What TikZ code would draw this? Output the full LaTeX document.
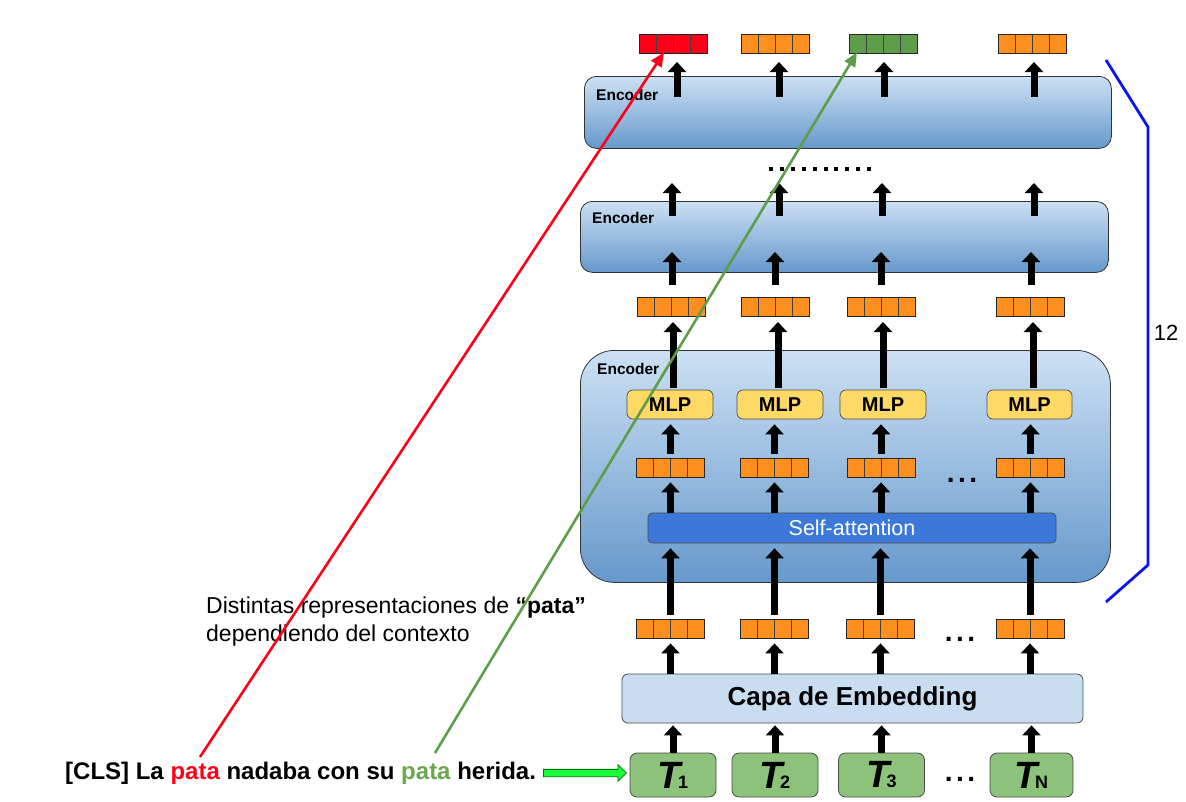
\documentclass[tikz,border=0pt]{standalone}
\usepackage{fontspec}
\setmainfont{Liberation Sans}
\usetikzlibrary{arrows.meta,calc,shapes.arrows}
\definecolor{vorange}{HTML}{FF8F1F}
\definecolor{vred}{HTML}{FF0019}
\definecolor{vgreen}{HTML}{5E9E4A}
\definecolor{wgreen}{HTML}{6AA84F}
\definecolor{enctop}{HTML}{CCE0F3}
\definecolor{encbot}{HTML}{6699CC}
\definecolor{mlpy}{HTML}{FFD966}
\definecolor{sablue}{HTML}{3C78D8}
\definecolor{embfill}{HTML}{C9DDF0}
\definecolor{tokg}{HTML}{8DC27A}
\definecolor{brk}{HTML}{0A14F0}
\definecolor{garrow}{HTML}{19FF3C}
\tikzset{
  vec/.style={draw=black!85, fill=#1, minimum width=68pt, minimum height=19pt, inner sep=0pt, line width=0.8pt,
    path picture={\foreach \k in {1,2,3}{\draw[black!75,line width=0.7pt]
      ($(path picture bounding box.south west)!\k/4!(path picture bounding box.south east)$) --
      ($(path picture bounding box.north west)!\k/4!(path picture bounding box.north east)$);}}},
  vec/.default=vorange,
  blk/.style={line width=7pt, -{Triangle[length=10pt,width=18pt]}, black, shorten <=4pt, shorten >=5pt},
  encoder/.style={draw=black!80, top color=enctop, bottom color=encbot, line width=0.8pt, inner sep=0pt},
  enclab/.style={font=\fontsize{15.5}{17}\selectfont\bfseries, inner sep=0pt, anchor=west},
  mlp/.style={draw=black!70, fill=mlpy, rounded corners=6pt, minimum width=86pt, minimum height=29pt, inner sep=0pt, line width=0.7pt, font=\fontsize{20}{22}\selectfont\bfseries},
  tok/.style={draw=black!70, fill=tokg, rounded corners=7pt, minimum width=86pt, minimum height=44pt, inner sep=0pt, line width=0.8pt},
  dots/.style={font=\fontsize{28}{28}\selectfont\bfseries, inner sep=0pt},
}
\newcommand{\tokT}[1]{{\fontsize{38}{38}\selectfont\bfseries\itshape T}\kern-3pt{\fontsize{18}{18}\selectfont\bfseries #1}}
\newcommand{\threedots}{.\kern3.5pt.\kern3.5pt.}
\begin{document}
\begin{tikzpicture}[x=1pt,y=-1pt]
\useasboundingbox[fill=white] (0,0) rectangle (1186,801);

% encoders
\node[encoder, rounded corners=12pt, minimum width=527pt, minimum height=72pt, anchor=north west] (enc1) at (584,76) {};
\node[enclab] (enc1l) at (596,95) {Encoder};
\node[encoder, rounded corners=12pt, minimum width=528pt, minimum height=71pt, anchor=north west] (enc2) at (580,201) {};
\node[enclab] (enc2l) at (592,218) {Encoder};
\node[encoder, rounded corners=34pt, minimum width=530pt, minimum height=232pt, anchor=north west] (enc3) at (580,350) {};
\node[enclab] (enc3l) at (597,369) {Encoder};

% top outputs
\node[vec=vred] (o1) at (673,43.5) {};
\node[vec] (o2) at (775.5,43.5) {};
\node[vec=vgreen] (o3) at (883,43.5) {};
\node[vec] (o4) at (1032.5,43.5) {};

% second row vectors
\node[vec] (r1) at (671,306.5) {};
\node[vec] (r2) at (775.5,306.5) {};
\node[vec] (r3) at (881,306.5) {};
\node[vec] (r4) at (1030.5,306.5) {};

% MLPs
\node[mlp] (m1) at (670,404.5) {MLP};
\node[mlp] (m2) at (780,404.5) {MLP};
\node[mlp] (m3) at (883,404.5) {MLP};
\node[mlp, minimum width=85pt] (m4) at (1029.5,404.5) {MLP};

% vectors after attention
\node[vec] (s1) at (670.5,467.5) {};
\node[vec] (s2) at (774.5,467.5) {};
\node[vec] (s3) at (881,467.5) {};
\node[vec] (s4) at (1030.5,467.5) {};
\node[dots] (d1) at (962,480) {\threedots};

% self-attention
\node[draw=black!70, fill=sablue, rounded corners=4pt, minimum width=408pt, minimum height=30pt, inner sep=0pt, line width=0.7pt,
  text=white, font=\fontsize{21.5}{23}\selectfont] (sa) at (852,528) {Self-attention};

% embeddings vectors
\node[vec] (e1) at (670.5,628.5) {};
\node[vec] (e2) at (774.5,628.5) {};
\node[vec] (e3) at (880.5,628.5) {};
\node[vec] (e4) at (1030,628.5) {};
\node[dots] (d2) at (960,639) {\threedots};

% embedding layer
\node[draw=black!70, fill=embfill, rounded corners=6pt, minimum width=461pt, minimum height=49pt, inner sep=0pt, line width=0.8pt,
  font=\fontsize{26}{28}\selectfont\bfseries] (emb) at (852.5,698.5) {Capa de Embedding};

% tokens
\node[tok] (t1) at (673,775) {\tokT{1}};
\node[tok] (t2) at (775,775) {\tokT{2}};
\node[tok] (t3) at (881.5,775) {\tokT{3}};
\node[tok, minimum width=83pt] (t4) at (1031.5,775) {\tokT{N}};
\node[dots] (d3) at (960,779) {\threedots};

% arrows
\foreach \i in {1,2,3,4}{
  \draw[blk, shorten <=0pt, shorten >=2pt] (t\i.north) -- (t\i.north |- emb.south);
  \draw[blk, shorten <=0pt] (e\i.south |- emb.north) -- (e\i.south);
  \draw[blk] (e\i.north) -- (e\i.north |- sa.south);
  \draw[blk, shorten <=0pt] (s\i.south |- sa.north) -- (s\i.south);
  \draw[blk] (s\i.north) -- (s\i.north |- m\i.south);
}
\foreach \i/\x in {1/673,2/778,3/883,4/1033}{
  \draw[blk] (\x,392) coordinate (mt\i) -- (\x,317) coordinate (rb\i);
}
\foreach \i/\x in {1/672,2/775,3/881,4/1031}{
  \draw[blk, shorten <=0pt, shorten >=0pt] (\x,285) coordinate (pa\i) -- (\x,252) coordinate (pb\i);
}
\foreach \i/\x in {1/672,2/779,3/882,4/1034}{
  \draw[blk, shorten <=0pt, shorten >=0pt] (\x,216) coordinate (qa\i) -- (\x,183) coordinate (qb\i);
}
\foreach \i/\x in {1/677,2/779,3/884,4/1034}{
  \draw[blk, shorten <=0pt, shorten >=0pt] (\x,97) coordinate (ua\i) -- (\x,62) coordinate (ub\i);
}

% vertical dots between encoders
\foreach \k in {0,...,9}{
  \fill ({771+\k*10.9-2},{167}) rectangle ++(4,4);
}

% sentence
\node[anchor=west, inner sep=0pt, font=\fontsize{24}{26}\selectfont\bfseries] (sent) at (65,773)
  {[CLS] La \textcolor{vred}{pata} nadaba con su \textcolor{wgreen}{pata} herida.};
\node[single arrow, draw=green!45!black, fill=garrow, line width=0.8pt, minimum height=83pt, minimum width=17pt,
  single arrow head extend=4.5pt, single arrow head indent=0pt, inner sep=3pt, anchor=tail] (gar) at (543,773) {};

% explanatory text
\node[anchor=north west, inner sep=0pt, align=left, font=\fontsize{23}{28}\selectfont] (expl) at (206,597)
  {Distintas representaciones de \textbf{“pata”}\\dependiendo del contexto};

% context lines
\coordinate (rs) at (200,757);
\coordinate (gs) at (435,753);
\draw[vred, line width=2.6pt, -{Triangle[length=14pt,width=12pt]}] (rs) -- ([xshift=-9pt,yshift=1pt]o1.south);
\draw[vgreen, line width=2.6pt, -{Triangle[length=14pt,width=12pt]}] (gs) -- ([xshift=-26pt,yshift=1pt]o3.south);

% bracket
\draw[brk, line width=2.8pt] (1106,60) coordinate (b0) -- (1148,127) coordinate (b1) -- (1148,565) coordinate (b2) -- (1106,602) coordinate (b3);
\node[inner sep=0pt, font=\fontsize{22}{24}\selectfont] (twelve) at (1166,333) {12};
\end{tikzpicture}
\end{document}
